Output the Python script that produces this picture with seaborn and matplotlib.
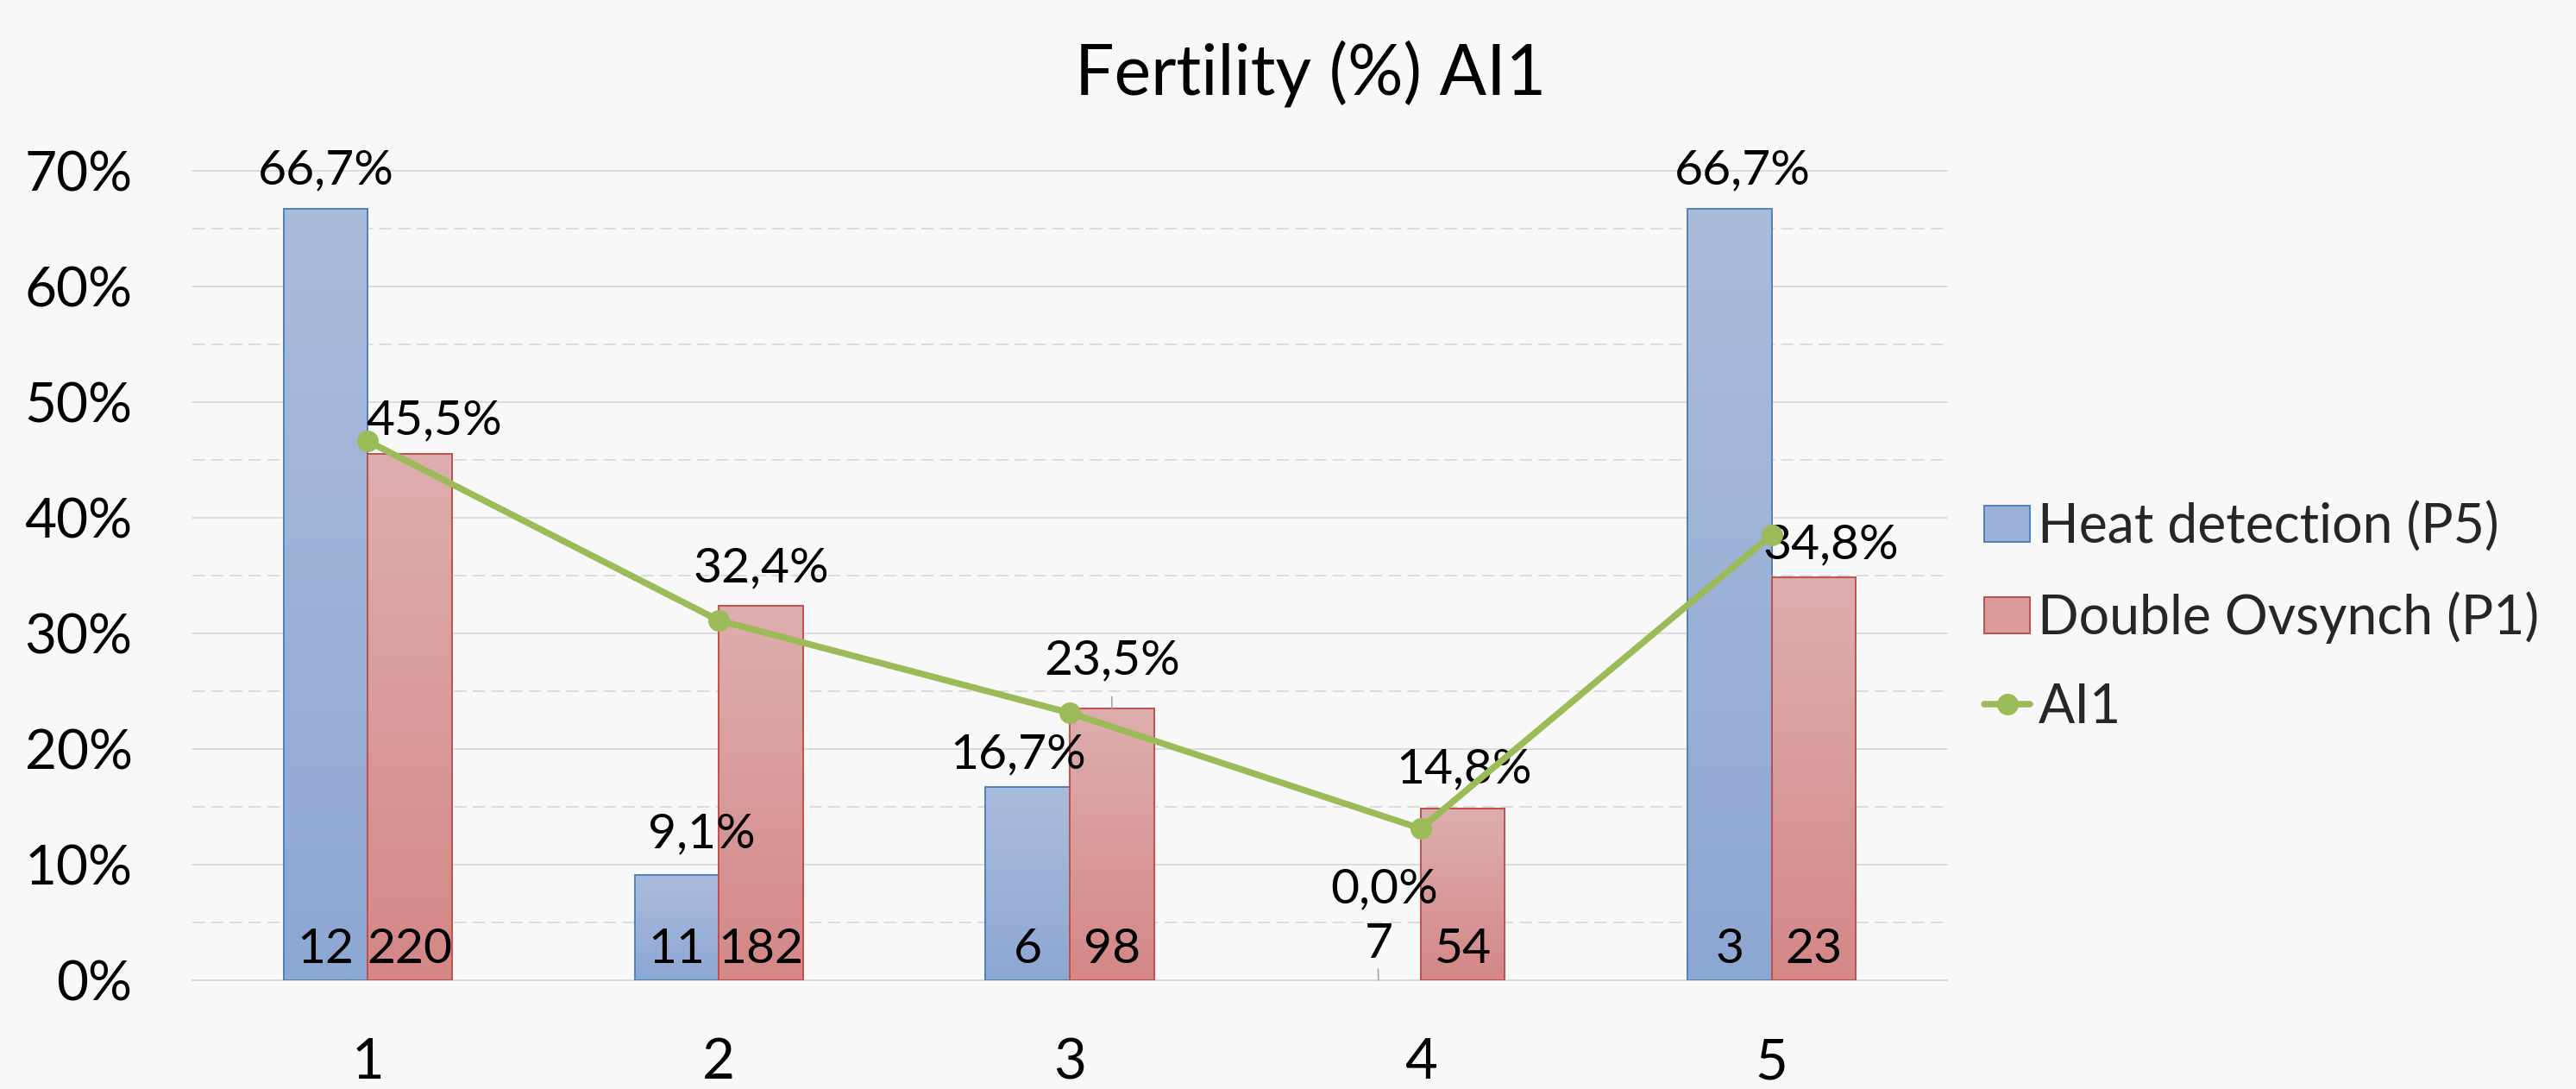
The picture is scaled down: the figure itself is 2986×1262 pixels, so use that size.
import numpy as np
import pandas as pd
import matplotlib
matplotlib.use('Agg')
import matplotlib.pyplot as plt
import seaborn as sns
from matplotlib.patches import Patch
from matplotlib.lines import Line2D
from matplotlib.colors import to_rgb

# ---------------- data ----------------
categories = ['1', '2', '3', '4', '5']
heat_detection = [66.7, 9.1, 16.7, 0.0, 66.7]
double_ovsynch = [45.5, 32.4, 23.5, 14.8, 34.8]
ai1 = [46.6, 31.1, 23.1, 13.1, 38.5]
heat_n = [12, 11, 6, 7, 3]
double_n = [220, 182, 98, 54, 23]
series_names = ['Heat detection (P5)', 'Double Ovsynch (P1)']
line_name = 'AI1'
title = 'Fertility (%) AI1'

# ---------------- style ----------------
sns.set_theme(style='white')
plt.rcParams['font.family'] = ['Lato', 'DejaVu Sans']

BG = '#F8F8F8'
GRID = '#D9D9D9'
BLUE_TOP, BLUE_BOT, BLUE_EDGE = '#AABCDC', '#8DA7D3', '#4F81BD'
RED_TOP, RED_BOT, RED_EDGE = '#DEAEAE', '#D48787', '#C0504D'
GREEN = '#9BBB59'
LINE_W = 5.4
MARKER_S = 18

W, H = 2986, 1262
fig = plt.figure(figsize=(W / 100, H / 100), dpi=100, facecolor=BG)
ax = fig.add_axes([223 / W, 1 - 1135.7 / H, (2257 - 223) / W, (1135.7 - 197.7) / H])
ax.set_facecolor(BG)

df = pd.DataFrame({
    'cat': categories * 2,
    'val': [v / 100 for v in heat_detection + double_ovsynch],
    'series': [series_names[0]] * len(categories) + [series_names[1]] * len(categories),
})
sns.barplot(data=df, x='cat', y='val', hue='series', hue_order=series_names,
            palette=[BLUE_BOT, RED_BOT], width=0.48, saturation=1,
            legend=False, ax=ax, zorder=3)

# gradient fill per bar
def gradient(ctop, cbot, n=256):
    t = np.linspace(0, 1, n)[:, None]
    a = np.array(to_rgb(ctop))[None, :]
    b = np.array(to_rgb(cbot))[None, :]
    return (a * (1 - t) + b * t)[:, None, :]

for cont, (ct, cb, ce) in zip(ax.containers[:2], [(BLUE_TOP, BLUE_BOT, BLUE_EDGE),
                                                   (RED_TOP, RED_BOT, RED_EDGE)]):
    for p in cont.patches:
        x0, y0 = p.get_xy()
        w, h = p.get_width(), p.get_height()
        p.set_edgecolor(ce)
        p.set_linewidth(1.4)
        if h > 0:
            im = ax.imshow(gradient(ct, cb), extent=[x0, x0 + w, y0, y0 + h],
                           origin='upper', aspect='auto', zorder=2.9, interpolation='bilinear')
            im.set_clip_path(p)
            p.set_facecolor('none')
        else:
            p.set_edgecolor('none')

# line
n_before = len(ax.lines)
sns.lineplot(x=np.arange(len(categories)), y=np.array(ai1) / 100, color=GREEN,
             marker='o', ax=ax, legend=False)
for ln in ax.lines[n_before:]:
    ln.set_linewidth(LINE_W)
    ln.set_markersize(MARKER_S)
    ln.set_markeredgewidth(0)
    ln.set_markerfacecolor(GREEN)
    ln.set_zorder(6)
    ln.set_solid_joinstyle('round')

# axes
ax.set_xlim(-0.5, len(categories) - 0.5)
ax.set_ylim(0, 0.7)
ax.set_xlabel('')
ax.set_ylabel('')
yt = np.round(np.arange(0, 0.71, 0.1), 2)
ax.set_yticks(yt)
ax.set_yticks(np.round(np.arange(0.05, 0.7, 0.1), 2), minor=True)
ax.set_yticklabels([f'{int(round(t * 100))}%' for t in yt])
ax.set_xticks(range(len(categories)))
ax.set_xticklabels(categories)
ax.set_axisbelow(True)
ax.yaxis.grid(True, which='major', color=GRID, linewidth=1.3, clip_on=False)
ax.yaxis.grid(True, which='minor', color=GRID, linewidth=1.3, linestyle=(0, (8, 4)))
ax.xaxis.grid(False)
for s in ['top', 'right', 'left']:
    ax.spines[s].set_visible(False)
ax.spines['bottom'].set_color(GRID)
ax.spines['bottom'].set_linewidth(1.3)
ax.tick_params(axis='both', which='both', length=0)
ax.tick_params(axis='y', labelsize=46, pad=50, colors='black')
ax.tick_params(axis='x', labelsize=47, pad=48, colors='black')

# data labels
heat_off = [(0, 29), (29, 31), (-11, 22), (7, 89), (15, 29)]
dbl_off = [(28, 23), (0, 27), (0, 39), (1, 30), (20, 22)]
heat_cnt_dy = [20, 20, 20, 26, 20]
dbl_cnt_dy = [20, 20, 20, 20, 20]

def fmt(v):
    return f'{v:.1f}%'.replace('.', ',')

for i, cont in enumerate(ax.containers[:2]):
    vals = heat_detection if i == 0 else double_ovsynch
    cnts = heat_n if i == 0 else double_n
    offs = heat_off if i == 0 else dbl_off
    cdy = heat_cnt_dy if i == 0 else dbl_cnt_dy
    for j, p in enumerate(cont.patches):
        xc = p.get_x() + p.get_width() / 2
        top = vals[j] / 100
        dx, dy = offs[j]
        kw = {}
        if i == 1 and j == 2:
            kw['arrowprops'] = dict(arrowstyle='-', color='#A6A6A6', lw=1.2,
                                    relpos=(0.5, 0), shrinkA=9, shrinkB=0)
        ax.annotate(fmt(vals[j]), xy=(xc, top), xytext=(dx, dy),
                    textcoords='offset pixels', ha='center', va='baseline',
                    fontsize=41, color='black', zorder=4, annotation_clip=False, **kw)
        kw2 = {}
        if i == 0 and j == 3:
            kw2['arrowprops'] = dict(arrowstyle='-', color='#A6A6A6', lw=1.2,
                                     relpos=(0.5, 0.1), shrinkA=0, shrinkB=0,
                                     connectionstyle='arc3,rad=0.05')
        ax.annotate(str(cnts[j]), xy=(xc, 0), xytext=(0, cdy[j]),
                    textcoords='offset pixels', ha='center', va='baseline',
                    fontsize=41, color='black', zorder=4, annotation_clip=False, **kw2)

# legend
handles = [
    Patch(facecolor='#9DB2D8', edgecolor=BLUE_EDGE, linewidth=1.4),
    Patch(facecolor='#D99A9A', edgecolor=RED_EDGE, linewidth=1.4),
    Line2D([], [], color=GREEN, linewidth=LINE_W, marker='o', markersize=MARKER_S,
           markeredgewidth=0),
]
fig.legend(handles, series_names + [line_name], loc='center left',
           bbox_to_anchor=(2300 / W, 1 - 715 / H), frameon=False, fontsize=45,
           handlelength=0.85, handleheight=0.66, handletextpad=0.15,
           labelspacing=0.72, borderpad=0, borderaxespad=0)

# title
fig.text(1519 / W, 1 - 110 / H, title, ha='center', va='baseline', fontsize=58, color='black')

fig.savefig('out.png', dpi=100, facecolor=BG)
